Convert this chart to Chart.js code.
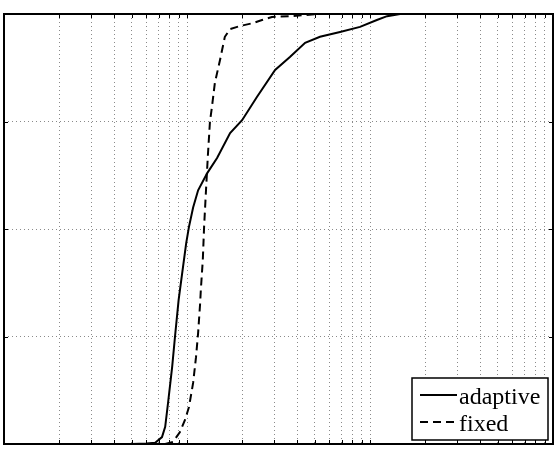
<!DOCTYPE html>
<html>
<head>
<meta charset="utf-8">
<script src="https://cdn.jsdelivr.net/npm/chart.js@4/dist/chart.umd.min.js"></script>
<style>
  html, body { margin: 0; padding: 0; background: #fff; }
  #wrap { width: 560px; height: 450px; position: relative; }
</style>
</head>
<body>
<div id="wrap"><canvas id="c" width="560" height="450"></canvas></div>
<script>
// ---- data (x on log scale, y = cumulative fraction) ----
const seriesLabels = ['adaptive', 'fixed'];

const adaptiveX = [5.0, 6.0, 6.7, 7.3, 7.6, 7.9, 8.3, 8.6, 9.0, 9.5, 9.9, 10.25, 10.8, 11.5, 12.9, 14.6, 17.2, 20.0, 24.1, 30.3, 36.5, 44.2, 53.3, 68.6, 88.2, 109, 124, 146, 273];
const adaptiveY = [0, 0.001, 0.003, 0.016, 0.04, 0.10, 0.18, 0.25, 0.335, 0.41, 0.467, 0.505, 0.55, 0.59, 0.63, 0.665, 0.723, 0.753, 0.807, 0.87, 0.90, 0.933, 0.947, 0.958, 0.970, 0.986, 0.995, 1.0, 1.0];

const fixedX = [7.6, 8.4, 9.15, 9.75, 10.25, 10.8, 11.2, 11.5, 11.8, 11.9, 12.2, 12.4, 12.7, 13.0, 13.35, 13.7, 14.2, 15.15, 16.1, 17.2, 19.5, 23.0, 25.7, 29.1, 36.5, 53, 100];
const fixedY = [0, 0.005, 0.028, 0.056, 0.086, 0.142, 0.202, 0.258, 0.328, 0.358, 0.428, 0.505, 0.59, 0.67, 0.75, 0.785, 0.84, 0.893, 0.947, 0.965, 0.972, 0.979, 0.986, 0.993, 0.995, 1.0, 1.0];

const xTicks = [1,2,3,4,5,6,7,8,9,10,20,30,40,50,60,70,80,90,100,200,300,400,500,600,700,800,900,1000];
const yTicks = [0, 0.25, 0.5, 0.75, 1];

const toPoints = (xs, ys) => xs.map((x, i) => ({ x: x, y: ys[i] }));

// ---- plugin: box, inner tick marks, legend ----
const framePlugin = {
  id: 'frame',
  afterDatasetsDraw(chart) {
    const ctx = chart.ctx;
    const a = chart.chartArea;
    const xs = chart.scales.x, ys = chart.scales.y;
    ctx.save();
    ctx.strokeStyle = '#000';
    ctx.lineWidth = 1;
    const tl = 4;
    xTicks.forEach(v => {
      const px = Math.round(xs.getPixelForValue(v)) + 0.5;
      ctx.beginPath();
      ctx.moveTo(px, a.top); ctx.lineTo(px, a.top + tl);
      ctx.moveTo(px, a.bottom); ctx.lineTo(px, a.bottom - tl);
      ctx.stroke();
    });
    yTicks.forEach(v => {
      const py = Math.round(ys.getPixelForValue(v)) + 0.5;
      ctx.beginPath();
      ctx.moveTo(a.left, py); ctx.lineTo(a.left + tl, py);
      ctx.moveTo(a.right, py); ctx.lineTo(a.right - tl, py);
      ctx.stroke();
    });
    ctx.lineWidth = 2;
    ctx.strokeRect(a.left, a.top, a.right - a.left, a.bottom - a.top);

    // legend
    const bw = 136, bh = 62;
    const bx = a.right - 5 - bw, by = a.bottom - 4 - bh;
    ctx.fillStyle = '#fff';
    ctx.fillRect(bx, by, bw, bh);
    ctx.lineWidth = 1.5;
    ctx.strokeStyle = '#000';
    ctx.strokeRect(bx, by, bw, bh);
    ctx.font = '24px "Liberation Serif", "Times New Roman", serif';
    ctx.fillStyle = '#000';
    ctx.textBaseline = 'alphabetic';
    chart.data.datasets.forEach((ds, i) => {
      const ly = by + 17 + i * 27;
      ctx.beginPath();
      ctx.setLineDash(ds.borderDash || []);
      ctx.lineWidth = 2;
      ctx.moveTo(bx + 8, ly); ctx.lineTo(bx + 45, ly);
      ctx.stroke();
      ctx.setLineDash([]);
      ctx.fillText(ds.label, bx + 47, ly + 9);
    });
    ctx.restore();
  }
};

new Chart(document.getElementById('c'), {
  type: 'line',
  data: {
    datasets: [
      { label: seriesLabels[0], data: toPoints(adaptiveX, adaptiveY), borderColor: '#000', borderWidth: 2, pointRadius: 0, tension: 0, fill: false },
      { label: seriesLabels[1], data: toPoints(fixedX, fixedY), borderColor: '#000', borderWidth: 2, borderDash: [8, 5], pointRadius: 0, tension: 0, fill: false }
    ]
  },
  options: {
    responsive: false,
    animation: false,
    layout: { padding: { left: 4, top: 14, right: 7, bottom: 6 } },
    plugins: { legend: { display: false }, tooltip: { enabled: false } },
    scales: {
      x: {
        type: 'logarithmic', min: 1, max: 1000,
        afterBuildTicks: (s) => { s.ticks = xTicks.map(v => ({ value: v })); },
        ticks: { display: false, autoSkip: false },
        grid: { color: '#8a8a8a', lineWidth: 1, drawTicks: false },
        border: { display: false, dash: [1, 3] }
      },
      y: {
        type: 'linear', min: 0, max: 1,
        afterBuildTicks: (s) => { s.ticks = yTicks.map(v => ({ value: v })); },
        ticks: { display: false },
        grid: { color: '#8a8a8a', lineWidth: 1, drawTicks: false },
        border: { display: false, dash: [1, 3] }
      }
    }
  },
  plugins: [framePlugin]
});
</script>
</body>
</html>
